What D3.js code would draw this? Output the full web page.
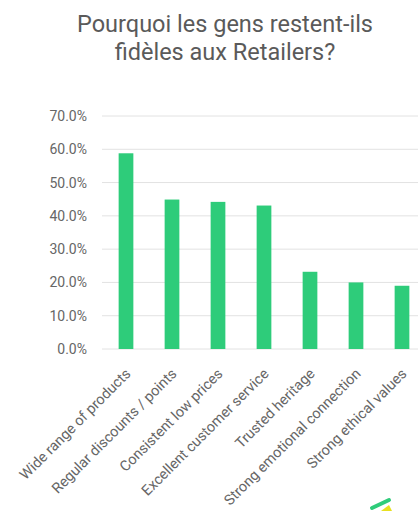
<!DOCTYPE html>
<html>
<head>
<meta charset="utf-8">
<script src="https://cdn.jsdelivr.net/npm/d3@7"></script>
<style>
body { margin: 0; background: #fff; }
svg { display: block; font-family: Roboto, "Noto Sans", sans-serif; }
</style>
</head>
<body>
<script>
var categories = ["Wide range of products", "Regular discounts / points", "Consistent low prices",
	"Excellent customer service", "Trusted heritage", "Strong emotional connection", "Strong ethical values"];
var values = [0.588, 0.449, 0.442, 0.431, 0.232, 0.200, 0.190];
var yTicks = [0, 0.1, 0.2, 0.3, 0.4, 0.5, 0.6, 0.7];
var titleLines = ["Pourquoi les gens restent-ils", "fidèles aux Retailers?"];

var width = 418, height = 511;
var plotLeft = 102, plotTop = 116, plotBottom = 349;

var svg = d3.select("body").append("svg")
	.attr("width", width)
	.attr("height", height);

svg.append("text")
	.attr("x", 225)
	.attr("y", 32)
	.attr("text-anchor", "middle")
	.attr("font-size", "23.5px")
	.style("fill", "#5a5a5a")
	.selectAll("tspan")
	.data(titleLines)
	.enter()
	.append("tspan")
		.attr("x", 225)
		.attr("dy", (d, i) => { return i === 0 ? 0 : 28; })
		.text((d) => { return d; });

var x = d3.scaleBand()
	.domain(categories)
	.range([plotLeft + 1, plotLeft + 1 + 7 * 46])
	.paddingInner(0.68)
	.paddingOuter(0.34);

var y = d3.scaleLinear()
	.domain([0, 0.7])
	.range([plotBottom, plotTop]);

// gridlines
svg.append("g")
	.selectAll("line")
	.data(yTicks)
	.enter()
	.append("line")
		.attr("x1", plotLeft)
		.attr("x2", width)
		.attr("y1", (d) => { return y(d); })
		.attr("y2", (d) => { return y(d); })
		.attr("stroke", "#e2e2e2")
		.attr("stroke-width", 1);

var leftAxis = d3.axisLeft(y)
	.tickValues(yTicks)
	.tickSize(0)
	.tickPadding(0)
	.tickFormat(d3.format(".1%"));

var yAxis = svg.append("g")
	.attr("transform", "translate(87,0)")
	.call(leftAxis);
yAxis.select(".domain").remove();
yAxis.selectAll("text")
	.attr("font-size", "14px")
	.attr("font-family", "Roboto, sans-serif")
	.style("fill", "#666");

svg.append("g")
	.selectAll("rect")
	.data(values)
	.enter()
	.append("rect")
		.attr("x", (d, i) => { return x(categories[i]); })
		.attr("y", (d) => { return y(d); })
		.attr("width", x.bandwidth())
		.attr("height", (d) => { return plotBottom - y(d); })
		.attr("fill", "#2ecc7a");

var bottomAxis = d3.axisBottom(x).tickSize(0).tickPadding(0);
var xAxis = svg.append("g")
	.attr("transform", "translate(0," + plotBottom + ")")
	.call(bottomAxis);
xAxis.select(".domain").remove();
xAxis.selectAll("text")
	.attr("font-size", "14.5px")
	.attr("font-family", "Roboto, sans-serif")
	.style("fill", "#666")
	.attr("text-anchor", "end")
	.attr("dy", "0.35em")
	.attr("x", 0)
	.attr("y", 0)
	.attr("transform", "translate(2,22) rotate(-45)");

// logo corner
svg.append("path")
	.attr("d", "M372,508 L389,500")
	.attr("stroke", "#2ecc7a")
	.attr("stroke-width", 4)
	.attr("stroke-linecap", "round");
svg.append("path")
	.attr("d", "M381,511 L389,505 L392,511 Z")
	.attr("fill", "#e8e020");
</script>
</body>
</html>
